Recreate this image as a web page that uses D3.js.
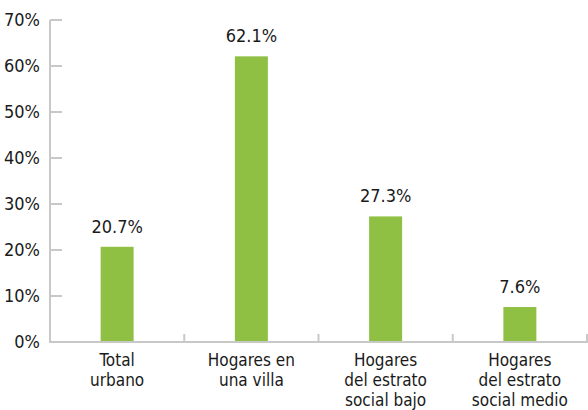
<!DOCTYPE html>
<html>
<head>
<meta charset="utf-8">
<script src="https://cdn.jsdelivr.net/npm/d3@7"></script>
<style>
  body { margin: 0; background: #fff; }
  text { font-family: "DejaVu Sans Condensed", "Liberation Sans Narrow", sans-serif; font-stretch: condensed; fill: #1a1a1a; }
</style>
</head>
<body>
<div class="chart"></div>
<script>
var categories = [
    ["Total", "urbano"],
    ["Hogares en", "una villa"],
    ["Hogares", "del estrato", "social bajo"],
    ["Hogares", "del estrato", "social medio"]
];
var values = [20.7, 62.1, 27.3, 7.6];
var yTicks = [0, 10, 20, 30, 40, 50, 60, 70];

var width = 588, height = 410;
var padding = {top: 20, right: 1, bottom: 68, left: 50};

var svg = d3.select(".chart")
    .append("svg")
    .attr("width", width)
    .attr("height", height);

var xScale = d3.scaleBand()
    .domain(d3.range(values.length))
    .range([padding.left, width - padding.right])
    .padding(0);

var yScale = d3.scaleLinear()
    .domain([0, 70])
    .range([height - padding.bottom, padding.top]);

var axisColor = "#c8c8c8";
var barWidth = 33;

// y axis ticks + labels
svg.selectAll(".ytick")
    .data(yTicks)
    .enter()
    .append("line")
    .attr("x1", padding.left)
    .attr("x2", padding.left + 12)
    .attr("y1", function(d){ return yScale(d); })
    .attr("y2", function(d){ return yScale(d); })
    .attr("stroke", axisColor)
    .attr("stroke-width", 2);

svg.selectAll(".ylabel")
    .data(yTicks)
    .enter()
    .append("text")
    .attr("x", 40)
    .attr("y", function(d){ return yScale(d) + 6; })
    .attr("text-anchor", "end")
    .style("font-size", "18px")
    .text(function(d){ return d + "%"; });

// bars
svg.selectAll("rect")
    .data(values)
    .enter()
    .append("rect")
    .attr("x", function(d, i){ return xScale(i) + xScale.bandwidth()/2 - barWidth/2; })
    .attr("y", function(d){ return yScale(d); })
    .attr("width", barWidth)
    .attr("height", function(d){ return yScale(0) - yScale(d); })
    .attr("fill", "#8fc043");

// value labels
svg.selectAll(".val")
    .data(values)
    .enter()
    .append("text")
    .attr("x", function(d, i){ return xScale(i) + xScale.bandwidth()/2; })
    .attr("y", function(d){ return yScale(d) - 14; })
    .attr("text-anchor", "middle")
    .style("font-size", "18px")
    .text(function(d){ return d.toFixed(1) + "%"; });

// axis lines
svg.append("line")
    .attr("x1", padding.left).attr("x2", padding.left)
    .attr("y1", yScale(70)).attr("y2", yScale(0) + 1)
    .attr("stroke", axisColor).attr("stroke-width", 2);

svg.append("line")
    .attr("x1", padding.left - 1).attr("x2", width)
    .attr("y1", yScale(0)).attr("y2", yScale(0))
    .attr("stroke", axisColor).attr("stroke-width", 2);

// category separator ticks
svg.selectAll(".xtick")
    .data(d3.range(1, values.length + 1))
    .enter()
    .append("line")
    .attr("x1", function(d){ return Math.min(xScale.step() * d + padding.left, width - 1); })
    .attr("x2", function(d){ return Math.min(xScale.step() * d + padding.left, width - 1); })
    .attr("y1", yScale(0) - 8)
    .attr("y2", yScale(0))
    .attr("stroke", axisColor)
    .attr("stroke-width", 2);

// category labels
var cat = svg.selectAll(".cat")
    .data(categories)
    .enter()
    .append("text")
    .attr("text-anchor", "middle")
    .style("font-size", "17px");

cat.selectAll("tspan")
    .data(function(d, i){ return d.map(function(t){ return {t: t, i: i}; }); })
    .enter()
    .append("tspan")
    .attr("x", function(d){ return xScale(d.i) + xScale.bandwidth()/2; })
    .attr("y", function(d, j){ return yScale(0) + 24 + j * 20; })
    .text(function(d){ return d.t; });
</script>
</body>
</html>
